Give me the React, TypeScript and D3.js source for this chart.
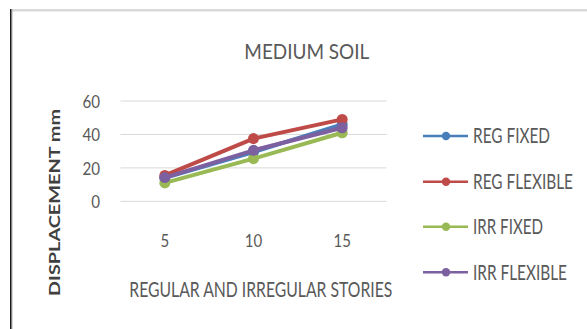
import React from "react";
import * as d3 from "d3";

const categories = ["5", "10", "15"];
const yTicks = [0, 20, 40, 60];
const seriesNames = ["REG FIXED", "REG FLEXIBLE", "IRR FIXED", "IRR FLEXIBLE"];
const regFixed = [14, 29.5, 46];
const regFlexible = [15.5, 37.5, 49];
const irrFixed = [11, 25.5, 41];
const irrFlexible = [14.2, 30.5, 44];
const seriesColors = ["#4A7EBB", "#BE4B48", "#98B954", "#7D60A0"];

const W = 587;
const H = 329;
const FONT = "Lato, 'Open Sans', sans-serif";

export default function App() {
  const series = [regFixed, regFlexible, irrFixed, irrFlexible];
  const x = d3.scaleBand<string>().domain(categories).range([120.5, 386.5]);
  const y = d3.scaleLinear().domain([0, 60]).range([201.3, 101]);
  const line = d3
    .line<number>()
    .x((_, i) => (x(categories[i]) as number) + x.bandwidth() / 2)
    .y((d) => y(d));

  const legendRows = [136, 181.7, 226.7, 272.3];
  const legendWidths = [77, 100, 70, 94];

  return (
    <svg
      width={W}
      height={H}
      style={{ position: "absolute", left: 0, top: 0, background: "#fff" }}
    >
      {/* frame edges */}
      <rect x={12} y={9} width={W - 12} height={2.5} fill="#d9d9d9" />
      <rect x={10} y={9} width={1.6} height={H - 9} fill="#1a1a1a" />
      <rect x={11.6} y={9} width={0.8} height={H - 9} fill="#9a9a9a" />

      <text
        transform="translate(244.3,58.5) scale(1,1.2)"
        fontFamily={FONT}
        fontSize={17.5}
        fill="#595959"
        textLength={125}
        lengthAdjust="spacingAndGlyphs"
      >
        MEDIUM SOIL
      </text>

      {yTicks.map((t) => (
        <g key={t}>
          <line
            x1={x.range()[0]}
            x2={x.range()[1]}
            y1={y(t)}
            y2={y(t)}
            stroke="#d9d9d9"
            strokeWidth={1}
          />
          <text
            x={100}
            y={y(t) + 7}
            textAnchor="end"
            fontFamily={FONT}
            fontSize={18}
            fill="#595959"
            textLength={String(t).length * 8.8}
            lengthAdjust="spacingAndGlyphs"
          >
            {t}
          </text>
        </g>
      ))}

      {categories.map((c) => (
        <text
          key={c}
          x={(x(c) as number) + x.bandwidth() / 2}
          y={246.7}
          textAnchor="middle"
          fontFamily={FONT}
          fontSize={18}
          fill="#595959"
          textLength={c.length * 8.7}
          lengthAdjust="spacingAndGlyphs"
        >
          {c}
        </text>
      ))}

      <text
        transform="translate(129.3,297) scale(1,1.2)"
        fontFamily={FONT}
        fontSize={17}
        fill="#595959"
        textLength={263}
        lengthAdjust="spacingAndGlyphs"
      >
        REGULAR AND IRREGULAR STORIES
      </text>

      <text
        transform="translate(59.5,296) rotate(-90)"
        fontFamily={FONT}
        fontSize={16}
        fontWeight={700}
        fill="#404040"
        textLength={187}
        lengthAdjust="spacingAndGlyphs"
      >
        DISPLACEMENT mm
      </text>

      {series.map((vals, si) => (
        <g key={seriesNames[si]}>
          <path
            d={line(vals) || ""}
            fill="none"
            stroke={seriesColors[si]}
            strokeWidth={4}
            strokeLinejoin="round"
          />
          {vals.map((v, i) => (
            <circle
              key={i}
              cx={(x(categories[i]) as number) + x.bandwidth() / 2}
              cy={y(v)}
              r={5.5}
              fill={seriesColors[si]}
            />
          ))}
        </g>
      ))}

      {seriesNames.map((name, si) => (
        <g key={name}>
          <line
            x1={423}
            x2={468}
            y1={legendRows[si]}
            y2={legendRows[si]}
            stroke={seriesColors[si]}
            strokeWidth={2.5}
          />
          <circle cx={446} cy={legendRows[si]} r={4.2} fill={seriesColors[si]} />
          <text
            transform={`translate(473,${legendRows[si] + 7.3}) scale(1,1.25)`}
            fontFamily={FONT}
            fontSize={16.5}
            fill="#595959"
            textLength={legendWidths[si]}
            lengthAdjust="spacingAndGlyphs"
          >
            {name}
          </text>
        </g>
      ))}
    </svg>
  );
}
